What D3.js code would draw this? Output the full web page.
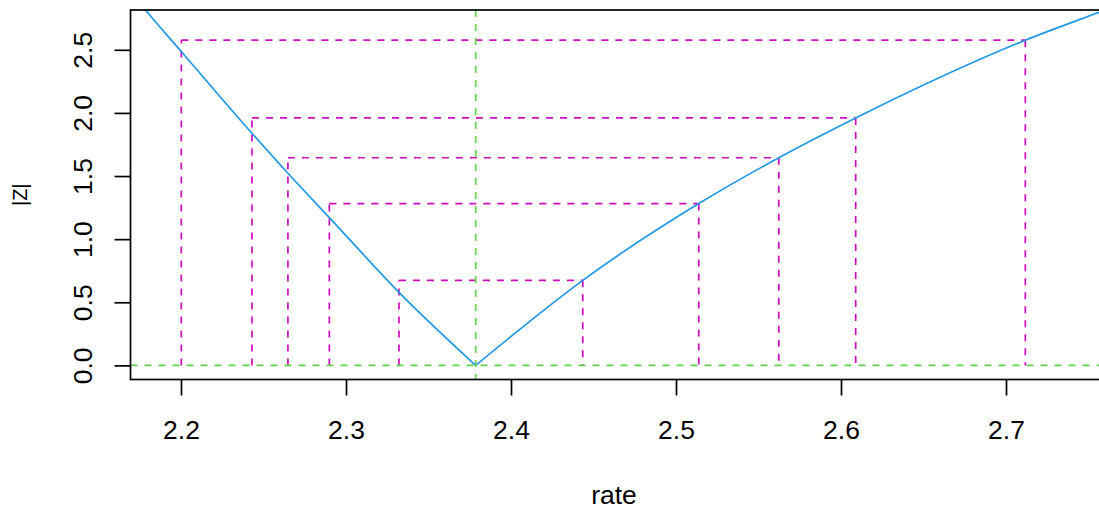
<!DOCTYPE html>
<html>
<head>
<meta charset="utf-8">
<script src="https://cdn.jsdelivr.net/npm/d3@7"></script>
<style>
  html, body { margin: 0; padding: 0; background: #ffffff; }
  svg { display: block; }
  text { font-family: "Liberation Sans", Arial, Helvetica, sans-serif; fill: #000; }
</style>
</head>
<body>
<svg id="chart" width="1099" height="510"></svg>
<script>
// ---- data ----
const rateValues = [2.1700, 2.1786, 2.2004, 2.2430, 2.2648, 2.2899, 2.3321, 2.3786,
                    2.4435, 2.5138, 2.5623, 2.6089, 2.7117, 2.7564, 2.7800];
const absZValues = [2.950, 2.813, 2.483, 1.839, 1.522, 1.171, 0.579, 0.000,
                    0.674, 1.282, 1.645, 1.960, 2.576, 2.797, 2.913];
const estimate = 2.3786;
const levelValues = [2.576, 1.960, 1.645, 1.282, 0.674];
const lowerBounds = [2.2002, 2.2430, 2.2648, 2.2899, 2.3321];
const upperBounds = [2.7117, 2.6089, 2.5623, 2.5138, 2.4435];
const xTickValues = [2.2, 2.3, 2.4, 2.5, 2.6, 2.7];
const yTickValues = [0.0, 0.5, 1.0, 1.5, 2.0, 2.5];
const xTitle = "rate";
const yTitle = "|Z|";

// ---- layout ----
const svg = d3.select("#chart");
const plot = { left: 130.5, top: 10, right: 1120, bottom: 379.5 };
const x = d3.scaleLinear().domain([2.2, 2.7]).range([181, 1006]);
const y = d3.scaleLinear().domain([0, 2.5]).range([365.4, 49.8]);

const blue = "#2297E6", magenta = "#CD0BBC", green = "#61D04F";
const dash = "7,7";
const lw = 1.7;

svg.append("defs").append("clipPath").attr("id", "clip")
  .append("rect")
  .attr("x", plot.left).attr("y", plot.top)
  .attr("width", plot.right - plot.left).attr("height", plot.bottom - plot.top);

const g = svg.append("g").attr("clip-path", "url(#clip)");

// confidence brackets
levelValues.forEach((lev, i) => {
  const lo = lowerBounds[i], hi = upperBounds[i];
  const segs = [
    [[lo, 0], [lo, lev]],
    [[lo, lev], [hi, lev]],
    [[hi, lev], [hi, 0]]
  ];
  segs.forEach(s => {
    g.append("line")
      .attr("x1", x(s[0][0])).attr("y1", y(s[0][1]))
      .attr("x2", x(s[1][0])).attr("y2", y(s[1][1]))
      .attr("stroke", magenta).attr("stroke-width", lw)
      .attr("stroke-dasharray", dash);
  });
});

// curve, split at the minimum so the tip stays sharp
const pts = rateValues.map((r, i) => [r, absZValues[i]]);
const iMin = d3.minIndex(absZValues);
const line = d3.line().x(d => x(d[0])).y(d => y(d[1])).curve(d3.curveMonotoneX);
g.append("path").datum(pts.slice(0, iMin + 1))
  .attr("d", line).attr("fill", "none").attr("stroke", blue).attr("stroke-width", lw);
g.append("path").datum(pts.slice(iMin))
  .attr("d", line).attr("fill", "none").attr("stroke", blue).attr("stroke-width", lw);

// reference lines
g.append("line")
  .attr("x1", plot.left).attr("x2", plot.right)
  .attr("y1", y(0)).attr("y2", y(0))
  .attr("stroke", green).attr("stroke-width", lw).attr("stroke-dasharray", dash);
g.append("line")
  .attr("x1", x(estimate)).attr("x2", x(estimate))
  .attr("y1", plot.top).attr("y2", plot.bottom)
  .attr("stroke", green).attr("stroke-width", lw).attr("stroke-dasharray", dash);

// box
svg.append("rect")
  .attr("x", plot.left).attr("y", plot.top)
  .attr("width", plot.right - plot.left).attr("height", plot.bottom - plot.top)
  .attr("fill", "none").attr("stroke", "#000").attr("stroke-width", lw);

// axes
const fontSize = 26.5;
const xAxis = d3.axisBottom(x).tickValues(xTickValues).tickSize(16).tickPadding(0)
  .tickFormat(d3.format(".1f"));
const xg = svg.append("g").attr("transform", `translate(0,${plot.bottom})`).call(xAxis);
xg.select(".domain").remove();
xg.selectAll(".tick line").attr("stroke", "#000").attr("stroke-width", lw);
xg.selectAll(".tick text")
  .attr("y", 59.5).attr("dy", null)
  .attr("font-size", fontSize).attr("font-family", "Liberation Sans, Arial, sans-serif")
  .attr("fill", "#000");

const yAxis = d3.axisLeft(y).tickValues(yTickValues).tickSize(16).tickPadding(0)
  .tickFormat(d3.format(".1f"));
const yg = svg.append("g").attr("transform", `translate(${plot.left},0)`).call(yAxis);
yg.select(".domain").remove();
yg.selectAll(".tick line").attr("stroke", "#000").attr("stroke-width", lw);
yg.selectAll(".tick text")
  .attr("x", null).attr("dy", null)
  .attr("transform", "translate(-38.5,0) rotate(-90)")
  .attr("text-anchor", "middle")
  .attr("font-size", fontSize).attr("font-family", "Liberation Sans, Arial, sans-serif")
  .attr("fill", "#000");

// titles
svg.append("text")
  .attr("x", 614).attr("y", 503.5)
  .attr("text-anchor", "middle").attr("font-size", fontSize)
  .text(xTitle);
svg.append("text")
  .attr("transform", `translate(27,${(plot.top + plot.bottom) / 2}) rotate(-90)`)
  .attr("text-anchor", "middle").attr("font-size", 20)
  .text(yTitle);
</script>
</body>
</html>
